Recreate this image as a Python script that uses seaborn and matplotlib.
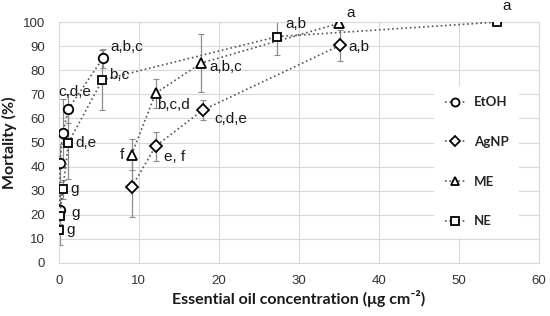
import matplotlib
matplotlib.use("Agg")
import matplotlib.pyplot as plt
import seaborn as sns
import pandas as pd

# EtOH
etoh_x = [0.1, 0.1, 0.5, 1.2, 5.5]
etoh_y = [22, 41.5, 54, 64, 85]
etoh_err = [6, 8, 14, 6, 4]
etoh_lab = ["", "", "", "c,d,e", "a,b,c"]

# AgNP
agnp_x = [9.1, 12.1, 18.0, 35.1]
agnp_y = [31.5, 48.5, 63.5, 90.3]
agnp_err = [12.5, 6, 4, 6.5]
agnp_lab = ["", "e, f", "c,d,e", "a,b"]

# ME
me_x = [9.1, 12.1, 17.8, 35.0]
me_y = [45, 70.5, 83, 99.5]
me_err = [6.5, 6, 12, 0]
me_lab = ["f", "b,c,d", "a,b,c", "a"]

# NE
ne_x = [0.0, 0.1, 0.5, 1.2, 5.45, 27.3, 54.7]
ne_y = [13.5, 19.5, 30.5, 50, 76, 94, 100]
ne_err = [6, 12, 4, 15, 12.5, 7.5, 0]
ne_lab = ["g", "g", "g", "d,e", "b,c", "a,b", "a"]

groups = ["EtOH", "AgNP", "ME", "NE"]
markers = {"EtOH": "o", "AgNP": "D", "ME": "^", "NE": "s"}
msize = {"EtOH": 6.8, "AgNP": 5.8, "ME": 7.2, "NE": 6.0}
# label offsets in pixels (dx, dy, ha)
offsets = {
    "EtOH": [None, None, None, (6, 17, "center"), (8, 11, "left")],
    "AgNP": [None, (8, -11, "left"), (11, -9, "left"), (9, -2, "left")],
    "ME": [(-8, 0, "right"), (1, -12, "left"), (8, -4, "left"), (7, 10, "left")],
    "NE": [(8, 0, "left"), (12, 3, "left"), (8, 0, "left"), (7, 0, "left"),
           (7, 5, "left"), (8, 13, "left"), (10, 16, "center")],
}

rows = []
for g, xs, ys, es, ls in [("EtOH", etoh_x, etoh_y, etoh_err, etoh_lab),
                          ("AgNP", agnp_x, agnp_y, agnp_err, agnp_lab),
                          ("ME", me_x, me_y, me_err, me_lab),
                          ("NE", ne_x, ne_y, ne_err, ne_lab)]:
    for x, y, e, l in zip(xs, ys, es, ls):
        rows.append({"group": g, "conc": x, "mort": y, "err": e, "lab": l})
df = pd.DataFrame(rows)

sns.set_theme(style="whitegrid")
plt.rcParams["font.family"] = ["Liberation Sans", "DejaVu Sans"]

fig, ax = plt.subplots(figsize=(5.5, 3.16), dpi=100)
fig.subplots_adjust(left=0.107, right=0.98, top=0.93, bottom=0.168)

for g in groups:
    d = df[df["group"] == g]
    ax.errorbar(d["conc"], d["mort"], yerr=d["err"], fmt="none",
                ecolor="#8c8c8c", elinewidth=0.9, capsize=2.5, capthick=0.8, zorder=2)
    sns.lineplot(data=d, x="conc", y="mort", sort=False, estimator=None, ax=ax,
                 color="#555555", linestyle=":", linewidth=1.2,
                 marker=markers[g], markersize=msize[g], markerfacecolor="white",
                 markeredgecolor="black", markeredgewidth=1.3, label=g, zorder=3)
    for (x, y, l), off in zip(d[["conc", "mort", "lab"]].values, offsets[g]):
        if l and off:
            ax.annotate(l, (x, y), xytext=(off[0], off[1]), textcoords="offset pixels",
                        ha=off[2], va="center", fontsize=11, color="#1a1a1a")

ax.set_xlim(0, 60)
ax.set_ylim(0, 100)
ax.set_xticks(range(0, 61, 10))
ax.set_yticks(range(0, 101, 10))
ax.grid(True, color="#d9d9d9", linewidth=0.8)
for s in ax.spines.values():
    s.set_color("#d9d9d9")
    s.set_linewidth(0.8)
ax.tick_params(axis="both", length=0, labelsize=9.5, colors="#333333")
ax.tick_params(axis="x", pad=9)
ax.tick_params(axis="y", pad=10)

lab_font = dict(family=["Lato", "DejaVu Sans"], fontweight="bold", fontsize=11.5, color="#1a1a1a")
ax.set_xlabel("Essential oil concentration (\u03bcg cm\u207b\u00b2)", labelpad=2, **lab_font)
ax.set_ylabel("Mortality (%)", labelpad=4, **lab_font)

leg = ax.legend(loc="center", bbox_to_anchor=(0.87, 0.42), frameon=True, framealpha=1,
                edgecolor="white", facecolor="white", labelspacing=2.1, handlelength=1.6,
                handletextpad=0.6, borderpad=0.8, markerscale=0.85,
                prop={"family": ["Lato", "DejaVu Sans"], "weight": "bold", "size": 9.5})
leg.get_frame().set_linewidth(0)

fig.savefig("out.png", dpi=100)
